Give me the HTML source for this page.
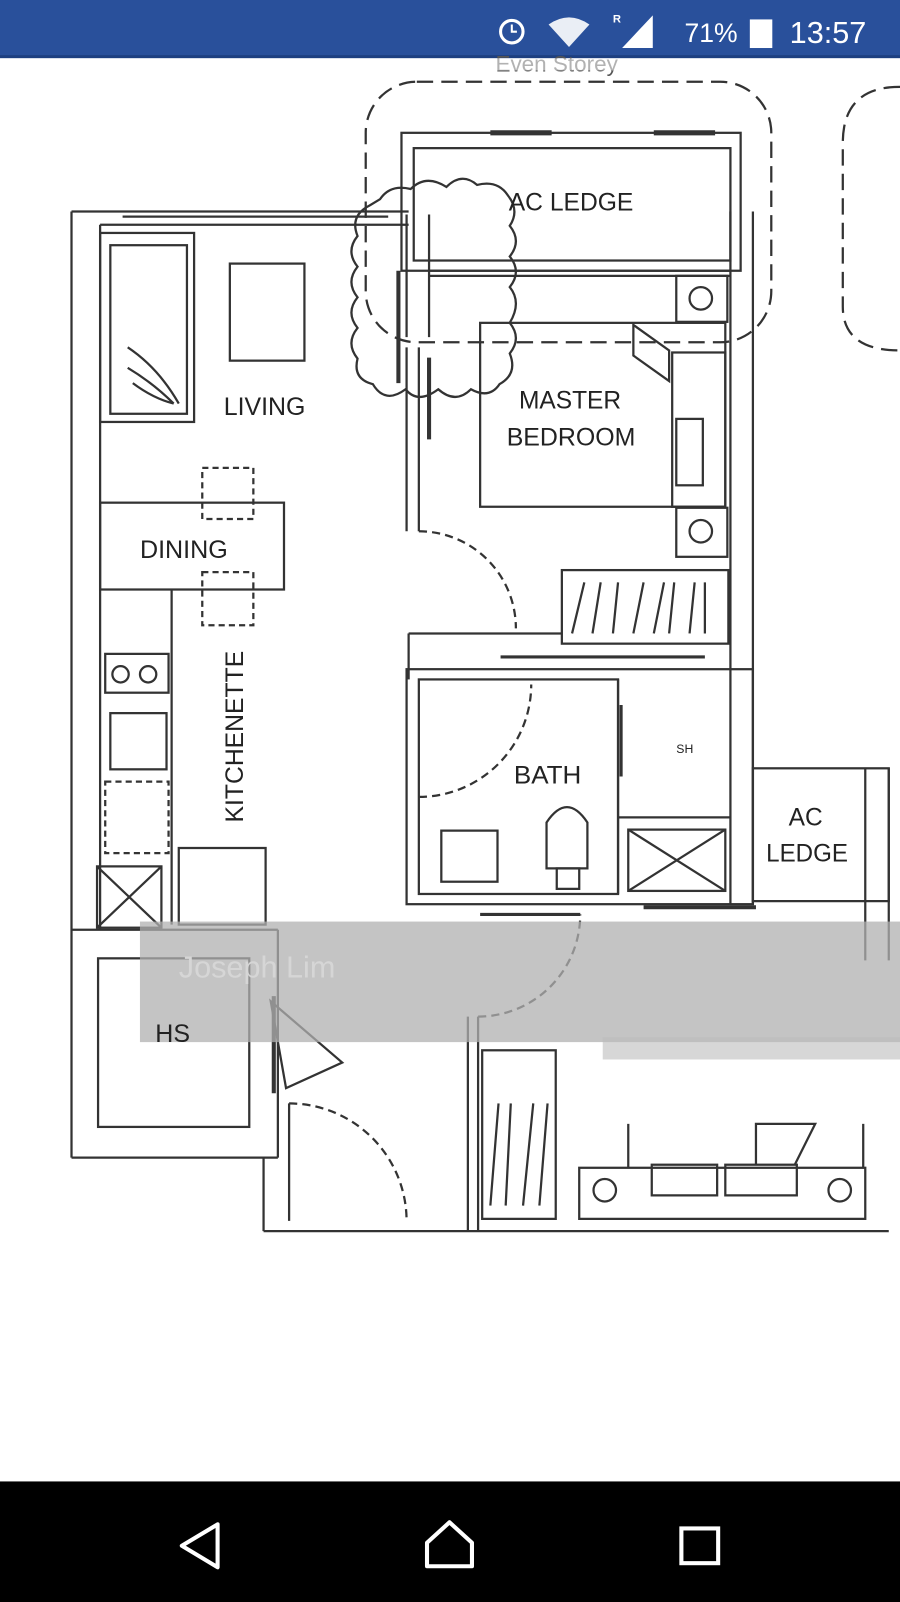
<!DOCTYPE html>
<html><head><meta charset="utf-8"><style>
html,body{margin:0;padding:0;background:#fff;width:900px;height:1602px;overflow:hidden}
svg{display:block}
text{font-family:"Liberation Sans",sans-serif}
</style></head><body>
<svg width="900" height="1602" viewBox="0 0 881 1568" preserveAspectRatio="none" xmlns="http://www.w3.org/2000/svg">
<rect width="881" height="1568" fill="#fff"/>
<!-- status bar -->
<rect width="881" height="56" fill="#29509b"/>
<rect y="54" width="881" height="3" fill="#1d3f80"/>
<circle cx="501" cy="31" r="11" fill="none" stroke="#fff" stroke-width="3"/>
<path d="M501 24v7h5" stroke="#fff" stroke-width="2" fill="none"/>
<path d="M537 24q20-14 40 0l-20 22z" fill="#fff" opacity="0.9"/>
<text x="600" y="22" font-size="11" fill="#fff" font-weight="bold">R</text>
<path d="M609 47l30-32v32z" fill="#fff"/>
<text x="670" y="41" font-size="26" fill="#fff">71%</text>
<rect x="734" y="19" width="22" height="28" fill="#fff"/>
<text x="773" y="42" font-size="30" fill="#fff">13:57</text>
<text x="485" y="70" font-size="22" fill="#555">Even Storey</text>
<rect y="57" width="881" height="12" fill="#fff" opacity="0.55"/>
<g fill="none" stroke="#333" stroke-width="2.2">
<!-- dashed boxes -->
<rect x="358" y="80" width="397" height="255" rx="50" stroke-dasharray="16 8"/>
<path d="M881 85 Q825 85 825 140 V300 Q825 343 881 343" stroke-dasharray="16 8"/>
<!-- AC ledge top -->
<rect x="393" y="130" width="332" height="135"/>
<rect x="405" y="145" width="310" height="110"/>
<line x1="480" y1="130" x2="540" y2="130" stroke-width="5"/>
<line x1="640" y1="130" x2="700" y2="130" stroke-width="5"/>
<!-- outer walls -->
<line x1="70" y1="207" x2="70" y2="1133"/>
<line x1="98" y1="220" x2="98" y2="910"/>
<line x1="70" y1="207" x2="400" y2="207"/>
<line x1="98" y1="220" x2="400" y2="220"/>
<line x1="120" y1="212" x2="380" y2="212"/>
<line x1="715" y1="207" x2="715" y2="885"/>
<line x1="737" y1="207" x2="737" y2="885"/>
<line x1="398" y1="210" x2="398" y2="330"/>
<line x1="420" y1="210" x2="420" y2="330"/>
<line x1="420" y1="265" x2="715" y2="265"/>
<line x1="420" y1="270" x2="715" y2="270"/>
<rect x="662" y="270" width="50" height="45"/>
<circle cx="686" cy="292" r="11"/>
<!-- cloud -->
<path d="M372 195 q10-15 30-10 q15-15 35 -2 q15-15 30 -2 q20-5 30 10 q12 15 2 30 q12 15 0 30 q12 15 0 30 q12 15 0 35 q12 15 0 30 q8 20 -10 30 q-10 15 -28 5 q-15 15 -32 0 q-20 15 -32 0 q-20 15 -32 -5 q-20 -5 -15 -25 q-12 -15 0 -30 q-12 -15 0 -30 q-12 -15 0 -30 q-12 -15 0 -30 q-8 -20 12 -30z"/>
<!-- sofa -->
<rect x="98" y="228" width="92" height="185"/>
<rect x="108" y="240" width="75" height="165"/>
<rect x="225" y="258" width="73" height="95"/>
<path d="M125 340 q30 20 50 55 M125 360 q25 15 45 35 M130 375 q20 15 40 20"/>
<!-- bedroom window lines -->
<line x1="390" y1="265" x2="390" y2="375" stroke-width="4"/>
<line x1="420" y1="350" x2="420" y2="430" stroke-width="4"/>
<line x1="398" y1="340" x2="398" y2="520"/>
<line x1="410" y1="340" x2="410" y2="520"/>
<!-- bed -->
<rect x="470" y="316" width="240" height="180"/>
<rect x="658" y="345" width="52" height="151"/>
<rect x="662" y="410" width="26" height="65"/>
<path d="M620 318 l35 25 v30 l-35 -25z"/>
<rect x="662" y="497" width="50" height="48"/>
<circle cx="686" cy="520" r="11"/>
<!-- door bedroom -->
<path d="M410 520 A95 95 0 0 1 505 615" stroke-dasharray="8 5"/>
<!-- wardrobe -->
<rect x="550" y="558" width="163" height="72"/>
<path d="M560 620 l12-50 M580 620 l8-50 M600 620 l5-50 M620 620 l10-50 M640 620 l10-50 M655 620 l5-50 M675 620 l5-50 M690 620 v-50"/>
<line x1="490" y1="643" x2="690" y2="643" stroke-width="3"/>
<line x1="400" y1="620" x2="550" y2="620"/>
<line x1="400" y1="620" x2="400" y2="665"/>
<!-- bath -->
<rect x="398" y="655" width="339" height="230"/>
<rect x="410" y="665" width="195" height="210"/>
<line x1="605" y1="665" x2="605" y2="875"/>
<line x1="605" y1="800" x2="715" y2="800"/>
<line x1="608" y1="690" x2="608" y2="760" stroke-width="3"/>
<path d="M410 780 A110 110 0 0 0 520 670" stroke-dasharray="8 5"/>
<rect x="432" y="813" width="55" height="50"/>
<path d="M535 850 v-45 q20-30 40 0 v45z"/>
<rect x="545" y="850" width="22" height="20"/>
<rect x="615" y="812" width="95" height="60"/>
<path d="M615 812l95 60M710 812l-95 60"/>
<!-- right AC ledge -->
<rect x="737" y="752" width="133" height="130"/>
<line x1="847" y1="752" x2="847" y2="940"/>
<line x1="870" y1="752" x2="870" y2="940"/>
<line x1="630" y1="888" x2="740" y2="888" stroke-width="4"/>
<!-- dining -->
<rect x="98" y="492" width="180" height="85"/>
<rect x="198" y="458" width="50" height="50" stroke-dasharray="6 4"/>
<rect x="198" y="560" width="50" height="52" stroke-dasharray="6 4"/>
<!-- kitchen counter -->
<line x1="168" y1="577" x2="168" y2="905"/>
<rect x="103" y="640" width="62" height="38"/>
<circle cx="118" cy="660" r="8"/><circle cx="145" cy="660" r="8"/>
<rect x="108" y="698" width="55" height="55"/>
<rect x="103" y="765" width="62" height="70" stroke-dasharray="6 4"/>
<rect x="95" y="848" width="63" height="60"/>
<path d="M95 848l63 60M158 848l-63 60"/>
<rect x="175" y="830" width="85" height="75"/>
<!-- HS -->
<line x1="70" y1="910" x2="272" y2="910"/>
<rect x="96" y="938" width="148" height="165"/>
<line x1="70" y1="1133" x2="272" y2="1133"/>
<line x1="272" y1="910" x2="272" y2="1133"/>
<path d="M265 980 l70 60 l-55 25z"/>
<line x1="268" y1="975" x2="268" y2="1070" stroke-width="4"/>
<!-- entrance -->
<line x1="258" y1="1133" x2="258" y2="1205"/>
<line x1="258" y1="1205" x2="870" y2="1205"/>
<line x1="283" y1="1080" x2="283" y2="1195"/>
<path d="M283 1080 A115 115 0 0 1 398 1195" stroke-dasharray="8 5"/>
<line x1="458" y1="995" x2="458" y2="1205"/>
<line x1="468" y1="995" x2="468" y2="1205"/>
<path d="M468 995 A100 100 0 0 0 568 895" stroke-dasharray="8 5"/>
<line x1="470" y1="895" x2="568" y2="895" stroke-width="3"/>
<rect x="472" y="1028" width="72" height="165"/>
<path d="M480 1180l8-100M495 1180l5-100M512 1180l10-100M528 1180l8-100"/>
<rect x="567" y="1143" width="280" height="50"/>
<circle cx="592" cy="1165" r="11"/><circle cx="822" cy="1165" r="11"/>
<rect x="638" y="1140" width="64" height="30"/>
<rect x="710" y="1140" width="70" height="30"/>
<path d="M740 1140 v-40 h58 l-20 40"/>
<line x1="615" y1="1100" x2="615" y2="1143"/>
<line x1="845" y1="1100" x2="845" y2="1143"/>
</g>
<!-- watermark band -->
<rect x="137" y="902" width="744" height="118" fill="#b0b0b0" opacity="0.75"/>
<rect x="590" y="1015" width="291" height="22" fill="#bcbcbc" opacity="0.6"/>
<text x="175" y="957" font-size="30" fill="#d6d6d6">Joseph Lim</text>
<!-- labels -->
<g fill="#222" font-size="24">
<text x="498" y="206" textLength="122" lengthAdjust="spacingAndGlyphs">AC LEDGE</text>
<text x="219" y="406" textLength="80" lengthAdjust="spacingAndGlyphs">LIVING</text>
<text x="508" y="400" textLength="100" lengthAdjust="spacingAndGlyphs">MASTER</text>
<text x="496" y="436" textLength="126" lengthAdjust="spacingAndGlyphs">BEDROOM</text>
<text x="137" y="546" textLength="86" lengthAdjust="spacingAndGlyphs">DINING</text>
<text x="503" y="767" textLength="66" lengthAdjust="spacingAndGlyphs">BATH</text>
<text x="662" y="737" font-size="12">SH</text>
<text x="772" y="808">AC</text>
<text x="750" y="843" textLength="80" lengthAdjust="spacingAndGlyphs">LEDGE</text>
<text x="152" y="1020" textLength="34" lengthAdjust="spacingAndGlyphs">HS</text>
<text transform="translate(238,805) rotate(-90)" textLength="168" lengthAdjust="spacingAndGlyphs">KITCHENETTE</text>
</g>
<!-- nav bar -->
<rect y="1450" width="881" height="118" fill="#000"/>
<path d="M213 1492 L178 1513 L213 1534Z" fill="none" stroke="#fff" stroke-width="4" stroke-linejoin="round"/>
<path d="M418 1533 V1510 L440 1490 L462 1510 V1533Z" fill="none" stroke="#fff" stroke-width="4" stroke-linejoin="round"/>
<rect x="667" y="1496" width="36" height="34" fill="none" stroke="#fff" stroke-width="4"/>
</svg>
</body></html>
